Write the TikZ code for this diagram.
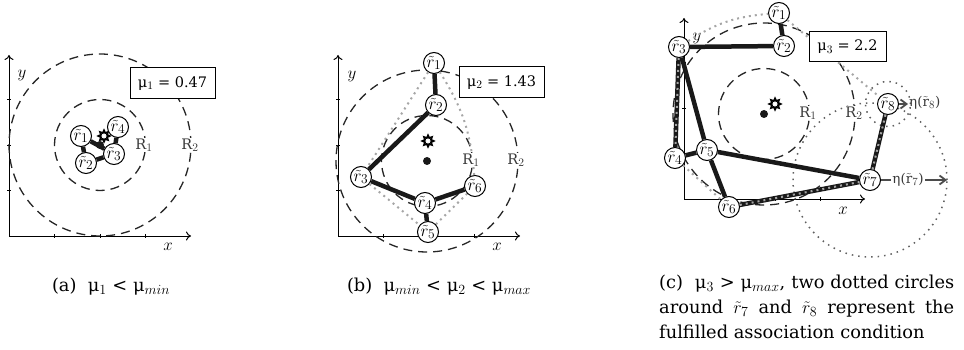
\documentclass[tikz,border=0pt]{standalone}
\usepackage{fix-cm}
\usepackage{fontspec}
\setmainfont{DejaVu Serif}
\usepackage{xcolor}
\usetikzlibrary{arrows.meta,shapes.geometric}
\DeclareMathSizes{17}{17}{13.5}{10}
\DeclareMathSizes{17.8}{17.8}{14}{10}
\DeclareMathSizes{14.5}{14.5}{11.5}{8}
\DeclareMathSizes{13.5}{13.5}{11}{8}
\newcommand{\rt}[1]{$\tilde{r}_{#1}$}
\newcommand{\muv}[1]{μ$_{#1}$}
\begin{document}
\begin{tikzpicture}[x=1pt,y=-1pt,font=\fontsize{17.8}{25}\selectfont,
  rnode/.style={draw,circle,fill=white,line width=1pt,inner sep=0pt,minimum size=21pt,font=\fontsize{17}{17}\selectfont},
  edge/.style={line width=4.5pt,black!90},
  hull/.style={gray!70,line width=2pt,dash pattern=on 2pt off 4pt},
  assoc/.style={gray!75!black,line width=1.5pt,dash pattern=on 1.5pt off 5pt},
  ring/.style={line width=1.3pt,black!85,dash pattern=on 9pt off 6pt},
  valbox/.style={draw,fill=white,line width=1pt,inner sep=0pt,font=\fontsize{14.5}{20}\selectfont},
  rlabel/.style={gray!45!black,fill=white,inner sep=1pt,font=\fontsize{14.5}{15}\selectfont},
  sun/.style={star,star points=8,star point ratio=1.7,draw,fill=white,line width=1.8pt,inner sep=0pt,minimum size=11pt},
  pt/.style={circle,fill=black!90,inner sep=0pt,minimum size=8pt},
  reach/.style={gray!60!black,line width=1.8pt,-{Straight Barb[length=6pt,width=9pt]}},
  axlabel/.style={inner sep=0pt,font=\fontsize{17}{17}\selectfont}]
\useasboundingbox (0,0) rectangle (964,350);
% axes, with their ticks
\foreach \p/\ox/\oy/\ey/\ex in {a/9/236/55/191,b/338/236/55/520,c/684/199/18/865}{
  \coordinate (\p O) at (\ox,\oy);
  \coordinate (\p Y) at (\ox,\ey);
  \coordinate (\p X) at (\ex,\oy);
  \draw[line width=1pt,-{To[length=5pt,width=9pt]}] (\p O)--(\p Y);
  \draw[line width=1pt,-{To[length=5pt,width=9pt]}] (\p O)--(\p X);
  \foreach \k in {1,2,3}{
    \draw[line width=0.7pt] (\ox+45.5*\k,\oy-2)--(\ox+45.5*\k,\oy+2);
    \draw[line width=0.7pt] (\ox-2,\oy-45.5*\k)--(\ox+2,\oy-45.5*\k);
  }
}
% radii, base point and sun
\foreach \p/\cx/\cy/\sx/\sy in {a/100/145/104/136,b/427/161/428/141,c/764/114/775/104}{
  \draw[ring] (\cx,\cy) circle (45.5pt);
  \draw[ring] (\cx,\cy) circle (91pt);
  \node[pt] (\p base) at (\cx,\cy) {};
  \node[sun] (\p sun) at (\sx,\sy) {};
}
% a
\foreach \n/\px/\py in {1/81/136,2/86/163,3/114/154,4/118/127}{
  \node[rnode] (a\n) at (\px,\py) {\rt{\n}};
}
\foreach \u/\v in {1/2,1/3,2/3,3/4}{
  \draw[edge] (a\u)--(a\v);
}
\node[valbox,minimum width=85pt,minimum height=31pt] (aval) at (172.5,83.5) {\muv{1} = 0.47};
\node[rlabel] (aR1) at (144,145) {R$_1$};
\node[rlabel] (aR2) at (190,145) {R$_2$};
\node[axlabel] (axl) at (168,247) {$x$};
\node[axlabel] (ayl) at (22,75) {$y$};
\node (acap) at (111,287) {(a)\ \ \muv{1} < μ$_{min}$};
% b
\foreach \n/\px/\py in {1/434/63,2/436/105,3/361/177,4/425/203,5/428/232,6/475/186}{
  \node[rnode] (b\n) at (\px,\py) {\rt{\n}};
}
\foreach \u/\v in {1/2,2/3,3/4,4/5,4/6}{
  \draw[edge] (b\u)--(b\v);
}
\draw[hull] (b1)--(b3);
\draw[hull] (b3)--(b5);
\draw[hull] (b5)--(b6);
\draw[hull] (b6) to[bend right=14] (b1);
\node[valbox,minimum width=85pt,minimum height=31pt] (bval) at (501.5,82.5) {\muv{2} = 1.43};
\node[rlabel] (bR1) at (471,160) {R$_1$};
\node[rlabel] (bR2) at (516,160) {R$_2$};
\node[axlabel] (bxl) at (497,247) {$x$};
\node[axlabel] (byl) at (352,76) {$y$};
\node (bcap) at (439,287) {(b)\ \ μ$_{min}$ < \muv{2} < μ$_{max}$};
% c
\draw[assoc] (870,180) circle (77pt);
\draw[assoc] (888,104) circle (22.5pt);
\node[axlabel] (cyl) at (697,38) {$y$};
\foreach \n/\px/\py in {1/779/13,2/784/46,3/679/47,4/675/158,5/707/150,6/729/207,7/870/180,8/888/104}{
  \node[rnode] (c\n) at (\px,\py) {\rt{\n}};
}
\foreach \u/\v in {1/2,2/3,3/4,3/5,4/5,5/6,5/7,6/7,7/8}{
  \draw[edge] (c\u)--(c\v);
}
\draw[hull] (c3) to[bend left=14] (c1);
\draw[hull] (c1)--(c8);
\draw[hull] (c3)--(c4);
\draw[hull] (c4)--(c6);
\draw[hull] (c6)--(c7);
\draw[hull] (c7)--(c8);
\node[valbox,minimum width=77pt,minimum height=30pt] (cval) at (847.5,47) {\muv{3} = 2.2};
\node[rlabel] (cR1) at (808,113) {R$_1$};
\node[rlabel] (cR2) at (854,113) {R$_2$};
\node[axlabel] (cxl) at (843,211) {$x$};
\coordinate (rim7) at (947,180);
\coordinate (rim8) at (908,104);
\draw[reach] (c7)--(rim7);
\draw[reach] (c8)--(rim8);
\node[rlabel,font=\fontsize{13.5}{14}\selectfont] (eta7) at (908,180) {η($\tilde{\mathrm{r}}_7$)};
\node[rlabel,fill=none,font=\fontsize{13.5}{14}\selectfont,anchor=west] (eta8) at (908,103) {η($\tilde{\mathrm{r}}_8$)};
\node[text width=295pt,align=justify,inner sep=0pt,anchor=north west] (ccap) at (659,275) {(c)\ \ \muv{3} > μ$_{max}$, two dotted circles\linebreak around $\tilde{r}_7$ and $\tilde{r}_8$ represent the\linebreak fulfilled association condition};
\end{tikzpicture}
\end{document}
